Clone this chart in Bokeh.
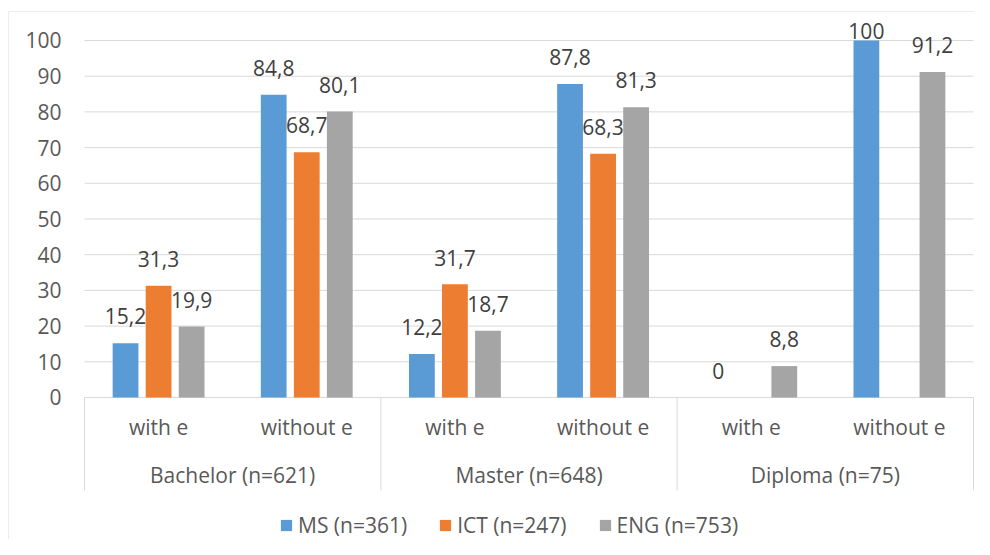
from bokeh.plotting import figure
from bokeh.models import ColumnDataSource, FixedTicker, Legend, LegendItem, Range1d, Span
from bokeh.core.properties import value
from bokeh.embed import file_html
from bokeh.resources import INLINE

# ---- data ----
groups = ["Bachelor (n=621)", "Master (n=648)", "Diploma (n=75)"]
subs = ["with e", "without e"]
series = ["MS (n=361)", "ICT (n=247)", "ENG (n=753)"]
ms = [15.2, 84.8, 12.2, 87.8, 0, 100]
ict = [31.3, 68.7, 31.7, 68.3, None, None]
eng = [19.9, 80.1, 18.7, 81.3, 8.8, 91.2]
y_ticks = list(range(0, 101, 10))

# ---- style / layout ----
colors = ["#5B9BD5", "#ED7D31", "#A5A5A5"]
FONT = "Open Sans"
AXIS_COLOR = "#595959"
LABEL_COLOR = "#404040"
GRID = "#D9D9D9"
FS = "21px"
offsets = [-0.223, 0.0, 0.223]
BAR_W = 0.174
LABEL_PAD = 7.5
LABEL_MAX = 102.6
SUB_Y = -8.3
GROUP_Y = -21.6
SEP_BOTTOM = -26

FRAME_W, FRAME_H = 966, 528
n_cat = len(groups) * len(subs)
cat_px = 889 / n_cat            # pixel width of one category
x_start = -76 / cat_px          # room on the left for the value axis
x_end = n_cat + 1 / cat_px
y_end = 108.12
y_start = -39.78

factors = [(g, s) for g in groups for s in subs]
cat_x = [i + 0.5 for i in range(n_cat)]             # centre of each category
grp_x = [len(subs) * (gi + 0.5) for gi in range(len(groups))]
sep_x = [len(subs) * gi for gi in range(len(groups) + 1)]


def fmt(v):
    return ("%g" % v).replace(".", ",")


p = figure(
    x_range=Range1d(x_start, x_end),
    y_range=Range1d(y_start, y_end),
    frame_width=FRAME_W, frame_height=FRAME_H,
    min_border_left=8, min_border_right=0, min_border_top=11, min_border_bottom=0,
    output_backend="svg", toolbar_location=None, x_axis_location=None,
)
p.outline_line_color = None
p.background_fill_color = "white"
p.border_fill_color = "white"
p.xgrid.visible = False
p.ygrid.visible = False

# value axis (labels drawn inside the chart box)
p.yaxis.ticker = FixedTicker(ticks=y_ticks)
p.yaxis.axis_line_color = None
p.yaxis.major_tick_line_color = None
p.yaxis.minor_tick_line_color = None
p.yaxis.major_tick_out = 0
p.yaxis.major_tick_in = 0
p.yaxis.major_label_standoff = -53
p.yaxis.major_label_text_font = FONT
p.yaxis.major_label_text_font_size = FS
p.yaxis.major_label_text_color = AXIS_COLOR

# chart box border (top and left edges)
p.add_layout(Span(location=y_end, dimension="width", line_color=GRID, line_width=1))
p.add_layout(Span(location=x_start, dimension="height", line_color=GRID, line_width=1))

# horizontal gridlines over the plot area
grid_src = ColumnDataSource(dict(y=y_ticks, x0=[sep_x[0]] * len(y_ticks), x1=[sep_x[-1]] * len(y_ticks)))
p.segment(x0="x0", y0="y", x1="x1", y1="y", source=grid_src, line_color=GRID, line_width=1)

items = []
for name, vals, col, off in zip(series, [ms, ict, eng], colors, offsets):
    xs = [x + off for x, v in zip(cat_x, vals) if v is not None]
    tops = [v for v in vals if v is not None]
    src = ColumnDataSource(dict(
        x=xs, top=tops,
        label=[fmt(v) for v in tops],
        ly=[min(v + LABEL_PAD, LABEL_MAX) for v in tops],
    ))
    r = p.vbar(x="x", top="top", width=BAR_W, fill_color=col, line_color=None, source=src)
    p.text(x="x", y="ly", text="label", source=src,
           text_align="center", text_baseline="alphabetic",
           text_font=value(FONT), text_font_size=FS, text_color=LABEL_COLOR)
    items.append(LegendItem(label=name, renderers=[r]))

# category labels (inner level)
sub_src = ColumnDataSource(dict(x=cat_x, y=[SUB_Y] * n_cat, t=[s for _, s in factors]))
p.text(x="x", y="y", text="t", source=sub_src, text_align="center", text_baseline="alphabetic",
       text_font=value(FONT), text_font_size=FS, text_color=AXIS_COLOR)

# group labels (outer level)
grp_src = ColumnDataSource(dict(x=grp_x, y=[GROUP_Y] * len(groups), t=groups))
p.text(x="x", y="y", text="t", source=grp_src, text_align="center", text_baseline="alphabetic",
       text_font=value(FONT), text_font_size=FS, text_color=AXIS_COLOR)

# separators of the category axis
sep_src = ColumnDataSource(dict(x=sep_x, y0=[0] * len(sep_x), y1=[SEP_BOTTOM] * len(sep_x)))
p.segment(x0="x", y0="y0", x1="x", y1="y1", source=sep_src, line_color=GRID, line_width=1)

legend = Legend(items=items, orientation="horizontal", location=(271, 0),
                glyph_width=14, glyph_height=14, label_standoff=5, spacing=31,
                padding=0, margin=0, border_line_color=None, background_fill_alpha=0,
                label_text_font=FONT, label_text_font_size=FS, label_text_color=AXIS_COLOR)
p.add_layout(legend)

open("out.html", "w").write(file_html(p, INLINE))
